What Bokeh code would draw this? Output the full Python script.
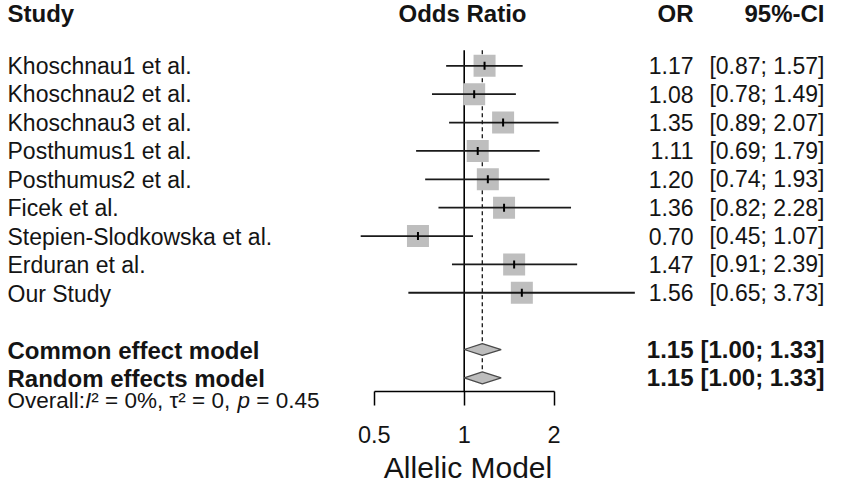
import math
from bokeh.plotting import figure
from bokeh.layouts import row
from bokeh.models import Range1d, FixedTicker, NumeralTickFormatter, LinearScale, Title
from bokeh.core.properties import value
from bokeh.embed import file_html
from bokeh.resources import INLINE

# ---------------- data ----------------
studies = ["Khoschnau1 et al.", "Khoschnau2 et al.", "Khoschnau3 et al.",
           "Posthumus1 et al.", "Posthumus2 et al.", "Ficek et al.",
           "Stepien-Slodkowska et al.", "Erduran et al.", "Our Study"]
odds_ratio = [1.17, 1.08, 1.35, 1.11, 1.20, 1.36, 0.70, 1.47, 1.56]
ci_lower = [0.87, 0.78, 0.89, 0.69, 0.74, 0.82, 0.45, 0.91, 0.65]
ci_upper = [1.57, 1.49, 2.07, 1.79, 1.93, 2.28, 1.07, 2.39, 3.73]

model_names = ["Common effect model", "Random effects model"]
model_or = [1.15, 1.15]
model_lower = [1.00, 1.00]
model_upper = [1.33, 1.33]

het_I2 = "0%"
het_tau2 = "0"
het_p = "0.45"

headers = ["Study", "Odds Ratio", "OR", "95%-CI"]
x_ticks = [0.5, 1, 2]
x_label = "Allelic Model"

# ---------------- layout ----------------
W, H = 825, 486
LEFT_W = 352                        # width of the study-name panel
FRAME_H = 392                       # bottom of forest frame = axis line
X1_PX = 463.7                       # pixel of OR = 1
PX_PER_LN = 89.85 / math.log(2)     # pixels per natural-log unit
ROW0_PX = 65.5
ROW_PX = 28.44
HEAD_ROW = (13.0 - ROW0_PX) / ROW_PX
XLABEL_CENTER = 467.5

COL_STUDY = 7
COL_ODDS = 462
COL_OR = 693
COL_CI = 824

FONT = "Liberation Sans"
TXT = "#141414"
BODY = "23px"
HEAD = "24px"
XLABEL_SIZE = 30

def px_to_row(px):
    return (px - ROW0_PX) / ROW_PX

rows = list(range(len(studies)))
model_rows = [len(studies) + 1 + i for i in range(len(model_names))]

# ---------- left panel: study labels ----------
left = figure(width=LEFT_W, height=H, x_range=Range1d(0, LEFT_W),
              y_range=Range1d(px_to_row(H), px_to_row(0)),
              output_backend="svg", toolbar_location=None,
              x_axis_location=None, y_axis_location=None,
              min_border_left=0, min_border_right=0, min_border_top=0, min_border_bottom=0)

# ---------- right panel: forest + numbers ----------
right = figure(width=W - LEFT_W, height=H, x_axis_type="log",
               x_range=Range1d(math.exp((LEFT_W - X1_PX) / PX_PER_LN),
                               math.exp((W - X1_PX) / PX_PER_LN)),
               y_range=Range1d(px_to_row(FRAME_H), px_to_row(0)),
               output_backend="svg", toolbar_location=None, y_axis_location=None,
               min_border_left=0, min_border_right=0, min_border_top=0,
               min_border_bottom=H - FRAME_H)
right.extra_x_ranges = {"cols": Range1d(LEFT_W, W)}
right.extra_x_scales = {"cols": LinearScale()}

for f in (left, right):
    f.grid.visible = False
    f.outline_line_color = None
    f.background_fill_color = "white"
    f.border_fill_color = "white"
    f.frame_align = False

ax = right.xaxis[0]
ax.ticker = FixedTicker(ticks=x_ticks)
ax.formatter = NumeralTickFormatter(format="0.[0]")
ax.bounds = (min(x_ticks), max(x_ticks))
ax.major_tick_in = 0
ax.major_tick_out = 14
ax.minor_tick_line_color = None
ax.axis_line_color = "black"
ax.axis_line_width = 1.5
ax.major_tick_line_color = "black"
ax.major_tick_line_width = 1.5
ax.major_label_text_font = FONT
ax.major_label_text_font_size = "23.5px"
ax.major_label_text_color = TXT
ax.major_label_standoff = 20

# axis title, centred under the tick span
xlabel_width = 5.612 * XLABEL_SIZE
right.add_layout(Title(text=x_label, align="left",
                       offset=XLABEL_CENTER - xlabel_width / 2 - LEFT_W,
                       standoff=6, text_font=FONT, text_font_size=f"{XLABEL_SIZE}px",
                       text_font_style="normal", text_color=TXT), "below")

LINE_TOP = -0.55
DIAM = 0.21
TICK = 0.14

# reference lines
right.segment(x0=[1], y0=[LINE_TOP], x1=[1], y1=[px_to_row(FRAME_H)],
              line_color="black", line_width=1.6)
right.segment(x0=[model_or[0]], y0=[LINE_TOP], x1=[model_or[0]], y1=[model_rows[-1] - DIAM],
              line_color="#222222", line_width=1.4, line_dash="4 3")

# study squares, CIs and estimate ticks
right.scatter(x=odds_ratio, y=rows, marker="square", size=22, fill_color="#BEBEBE", line_color=None)
right.segment(x0=ci_lower, y0=rows, x1=ci_upper, y1=rows, line_color="#1a1a1a", line_width=1.8)
right.segment(x0=odds_ratio, y0=[r - TICK for r in rows], x1=odds_ratio,
              y1=[r + TICK for r in rows], line_color="black", line_width=2)

# pooled diamonds
dx = [[lo, e, hi, e] for lo, e, hi in zip(model_lower, model_or, model_upper)]
dy = [[r, r - DIAM, r, r + DIAM] for r in model_rows]
right.patches(xs=dx, ys=dy, fill_color="#BDBDBD", line_color="#4a4a4a", line_width=1.3)

def txt(f, x, y, t, align, bold=False, size=BODY, style=None, cols=False):
    kw = {"x_range_name": "cols"} if cols else {}
    f.text(x=x, y=y, text=t, text_align=align, text_baseline="middle",
           text_font=value(FONT), text_font_size=size, text_color=TXT,
           text_font_style=style or ("bold" if bold else "normal"), **kw)

# headers
txt(left, [COL_STUDY], [HEAD_ROW], [headers[0]], "left", True, HEAD)
txt(right, [COL_ODDS], [HEAD_ROW], [headers[1]], "center", True, HEAD, cols=True)
txt(right, [COL_OR], [HEAD_ROW], [headers[2]], "right", True, HEAD, cols=True)
txt(right, [COL_CI], [HEAD_ROW], [headers[3]], "right", True, HEAD, cols=True)

# study rows
txt(left, [COL_STUDY] * len(rows), rows, studies, "left")
txt(right, [COL_OR] * len(rows), rows, [f"{v:.2f}" for v in odds_ratio], "right", cols=True)
txt(right, [COL_CI] * len(rows), rows,
    [f"[{lo:.2f}; {hi:.2f}]" for lo, hi in zip(ci_lower, ci_upper)], "right", cols=True)

# pooled rows
txt(left, [COL_STUDY] * 2, model_rows, model_names, "left", True, HEAD)
txt(right, [COL_OR] * 2, model_rows, [f"{v:.2f}" for v in model_or], "right", True, HEAD, cols=True)
txt(right, [COL_CI] * 2, model_rows,
    [f"[{lo:.2f}; {hi:.2f}]" for lo, hi in zip(model_lower, model_upper)], "right", True, HEAD,
    cols=True)

# heterogeneity line, with italic I and p (pieces laid out with Arial/Liberation advances)
ARIAL = {"O": 778, "v": 500, "e": 556, "r": 333, "a": 556, "l": 222, ":": 278, "I": 278,
         "²": 333, " ": 278, "=": 584, "0": 556, "%": 889, ",": 278, "τ": 440, "p": 556,
         ".": 278, "4": 556, "5": 556}
HET_SIZE = 22.5
pieces = [("Overall:", "normal"), ("I", "italic"), (f"² = {het_I2}, τ² = {het_tau2}, ", "normal"),
          ("p", "italic"), (f" = {het_p}", "normal")]
het_row = model_rows[-1] + 0.76

def adv(s):
    return sum(ARIAL.get(c, 556) for c in s) / 1000 * HET_SIZE

xpos = COL_STUDY
for s, style in pieces:
    lead = len(s) - len(s.lstrip(" "))
    xpos += adv(" " * lead)
    body = s.strip(" ")
    txt(left, [xpos], [het_row], [body], "left", size=f"{HET_SIZE}px", style=style)
    xpos += adv(s.lstrip(" "))

layout = row(left, right)
open("out.html", "w").write(file_html(layout, INLINE))
